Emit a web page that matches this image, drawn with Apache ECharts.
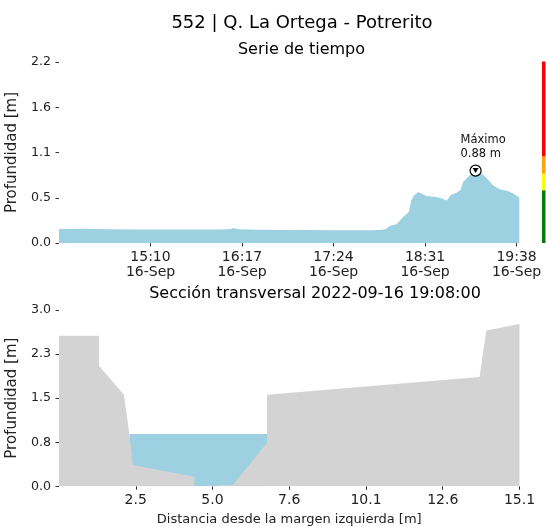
<!DOCTYPE html>
<html>
<head>
<meta charset="utf-8">
<script src="https://cdn.jsdelivr.net/npm/echarts@6/dist/echarts.min.js"></script>
<style>
html,body{margin:0;padding:0;background:#fff;}
#chart{width:546px;height:527px;}
</style>
</head>
<body>
<div id="chart"></div>
<script>
// ---- Time series (top) ----
const dateLabel = '16-Sep';
const times = ['14:03','14:20','14:40','15:00','15:30','16:00','16:08','16:11','16:14','16:30','17:00','17:30','17:50','17:58','18:02','18:05','18:10','18:12','18:15','18:19','18:21','18:23','18:26','18:29','18:32','18:36','18:40','18:43','18:47','18:50','18:54','18:57','18:59','19:03','19:05','19:08','19:11','19:16','19:21','19:26','19:31','19:36','19:40'];
const depth = [0.170,0.172,0.168,0.165,0.163,0.165,0.168,0.182,0.168,0.162,0.158,0.155,0.155,0.158,0.166,0.207,0.227,0.260,0.320,0.373,0.520,0.580,0.620,0.595,0.570,0.565,0.557,0.545,0.517,0.586,0.610,0.644,0.745,0.810,0.840,0.880,0.870,0.790,0.700,0.650,0.635,0.600,0.550];
const timeTickLabels = ['15:10','16:17','17:24','18:31','19:38'];
const topYTickLabels = ['0.0','0.5','1.1','1.6','2.2'];
const topYMax = 2.2;

// Alert levels (colour bar)
const levelThresholds = [0.64, 0.84, 1.05, 2.2];
const levelColors = ['#008000', '#ffff00', '#ffa500', '#ff0000'];

// ---- Cross section (bottom) ----
const sectionX = [0, 1.31, 1.31, 2.13, 2.31, 2.42, 4.44, 4.44, 4.90, 5.00, 5.10, 5.30, 5.70, 5.70, 6.82, 6.82, 13.79, 14.01, 15.10];
const sectionY = [2.56, 2.56, 2.05, 1.556, 0.874, 0.363, 0.164, 0.0, 0.0, 0.02, 0.0, 0.02, 0.02, 0.05, 0.743, 1.556, 1.858, 2.65, 2.76];
const waterX = [2.31, 6.82];
const waterLevel = 0.89;
const sectionXTickLabels = ['2.5','5.0','7.6','10.1','12.6','15.1'];
const sectionYTickLabels = ['0.0','0.8','1.5','2.3','3.0'];
const sectionXMax = 15.1;
const sectionYMax = 3.0;
const sectionTime = '2022-09-16 19:08:00';

// ---- build ----
const FONT = 'DejaVu Sans';
function toMin(s){ const p = s.split(':').map(Number); return p[0]*60 + p[1]; }
const t0 = toMin(times[0]);
const tsData = times.map((t, i) => [toMin(t) - t0, depth[i]]);
const tMax = toMin(times[times.length - 1]) - t0;
const timeTickVals = timeTickLabels.map(s => toMin(s) - t0);
let maxIdx = 0;
depth.forEach((d, i) => { if (d > depth[maxIdx]) maxIdx = i; });
const maxCoord = [toMin(times[maxIdx]) - t0, depth[maxIdx]];

const secData = sectionX.map((x, i) => [x, sectionY[i]]);
const waterData = waterX.map(x => [x, waterLevel]);
const secStep = sectionXMax / 6;
const secTickVals = sectionXTickLabels.map((_, i) => (i + 1) * secStep);

const levelBars = levelThresholds.map((t, i) => ({
  type: 'bar', xAxisIndex: 2, yAxisIndex: 2, stack: 'lvl', barWidth: '100%',
  data: [t - (i ? levelThresholds[i-1] : 0)],
  itemStyle: { color: levelColors[i] }, silent: true
}));

const tickStyle = { show: true, length: 3.5, lineStyle: { color: '#333', width: 1 } };

const option = {
  animation: false,
  textStyle: { fontFamily: FONT },
  title: [
    { text: '552 | Q. La Ortega - Potrerito', left: 297, top: 9, textAlign: 'center',
      textStyle: { fontFamily: FONT, fontSize: 18, fontWeight: 'normal', color: '#000' } },
    { text: 'Serie de tiempo', left: 296.5, top: 37, textAlign: 'center',
      textStyle: { fontFamily: FONT, fontSize: 16, fontWeight: 'normal', color: '#000' } },
    { text: 'Sección transversal ' + sectionTime, left: 310, top: 281, textAlign: 'center',
      textStyle: { fontFamily: FONT, fontSize: 16, fontWeight: 'normal', color: '#000' } }
  ],
  grid: [
    { left: 59, top: 62, width: 460.3, height: 181, outerBoundsMode: 'none', containLabel: false },
    { left: 59, top: 310, width: 460.5, height: 176.3, outerBoundsMode: 'none', containLabel: false },
    { left: 542, top: 61.5, width: 3.5, height: 181.5, outerBoundsMode: 'none', containLabel: false }
  ],
  xAxis: [
    { type: 'value', gridIndex: 0, min: 0, max: tMax, interval: 67,
      axisLine: { show: false }, splitLine: { show: false },
      axisTick: Object.assign({ customValues: timeTickVals }, tickStyle),
      axisLabel: { customValues: timeTickVals, margin: 7, fontSize: 14, lineHeight: 15, color: '#222', fontFamily: FONT,
        formatter: v => { const i = timeTickVals.indexOf(v); return i >= 0 ? timeTickLabels[i] + '\n' + dateLabel : ''; } } },
    { type: 'value', gridIndex: 1, min: 0, max: sectionXMax, interval: secStep,
      axisLine: { show: false }, splitLine: { show: false },
      axisTick: Object.assign({ customValues: secTickVals }, tickStyle),
      axisLabel: { customValues: secTickVals, margin: 7, fontSize: 14, color: '#222', fontFamily: FONT,
        formatter: v => { const i = Math.round(v / secStep) - 1; return sectionXTickLabels[i] || ''; } },
      name: 'Distancia desde la margen izquierda [m]', nameLocation: 'middle', nameGap: 27,
      nameTextStyle: { fontSize: 13, color: '#222', fontFamily: FONT } },
    { type: 'category', gridIndex: 2, data: [''], show: false }
  ],
  yAxis: [
    { type: 'value', gridIndex: 0, min: 0, max: topYMax, interval: topYMax / 4,
      axisLine: { show: false }, splitLine: { show: false }, axisTick: tickStyle,
      axisLabel: { margin: 8, fontSize: 12.6, color: '#222', fontFamily: FONT,
        formatter: v => topYTickLabels[Math.round(v / (topYMax / 4))] },
      name: 'Profundidad [m]', nameLocation: 'middle', nameGap: 34,
      nameTextStyle: { fontSize: 15, color: '#222', fontFamily: FONT } },
    { type: 'value', gridIndex: 1, min: 0, max: sectionYMax, interval: sectionYMax / 4,
      axisLine: { show: false }, splitLine: { show: false }, axisTick: tickStyle,
      axisLabel: { margin: 8, fontSize: 12.6, color: '#222', fontFamily: FONT,
        formatter: v => sectionYTickLabels[Math.round(v / (sectionYMax / 4))] },
      name: 'Profundidad [m]', nameLocation: 'middle', nameGap: 34,
      nameTextStyle: { fontSize: 15, color: '#222', fontFamily: FONT } },
    { type: 'value', gridIndex: 2, min: 0, max: topYMax, show: false }
  ],
  series: [
    { type: 'line', xAxisIndex: 0, yAxisIndex: 0, data: tsData, symbol: 'none', smooth: false,
      lineStyle: { width: 0 }, areaStyle: { color: '#9dd1e1', opacity: 1 }, silent: true,
      markPoint: {
        silent: true,
        data: [
          { coord: maxCoord, symbol: 'circle', symbolSize: 11,
            itemStyle: { color: '#fff', borderColor: '#000', borderWidth: 1.2 },
            label: { show: true, formatter: 'Máximo\n' + depth[maxIdx].toFixed(2) + ' m',
              position: [-9, -32], align: 'left', verticalAlign: 'top',
              fontSize: 11.5, lineHeight: 14.3, color: '#111', fontFamily: FONT } },
          { coord: maxCoord, symbol: 'triangle', symbolSize: [6, 5], symbolRotate: 180,
            itemStyle: { color: '#000' }, label: { show: false } }
        ]
      } },
    { type: 'line', xAxisIndex: 1, yAxisIndex: 1, data: waterData, symbol: 'none', z: 2,
      lineStyle: { width: 0 }, areaStyle: { color: '#9dd1e1', opacity: 1 }, silent: true },
    { type: 'line', xAxisIndex: 1, yAxisIndex: 1, data: secData, symbol: 'none', z: 3,
      lineStyle: { width: 0 }, areaStyle: { color: '#d3d3d3', opacity: 1 }, silent: true }
  ].concat(levelBars)
};

const chart = echarts.init(document.getElementById('chart'), null, { renderer: 'canvas' });
chart.setOption(option);
</script>
</body>
</html>
